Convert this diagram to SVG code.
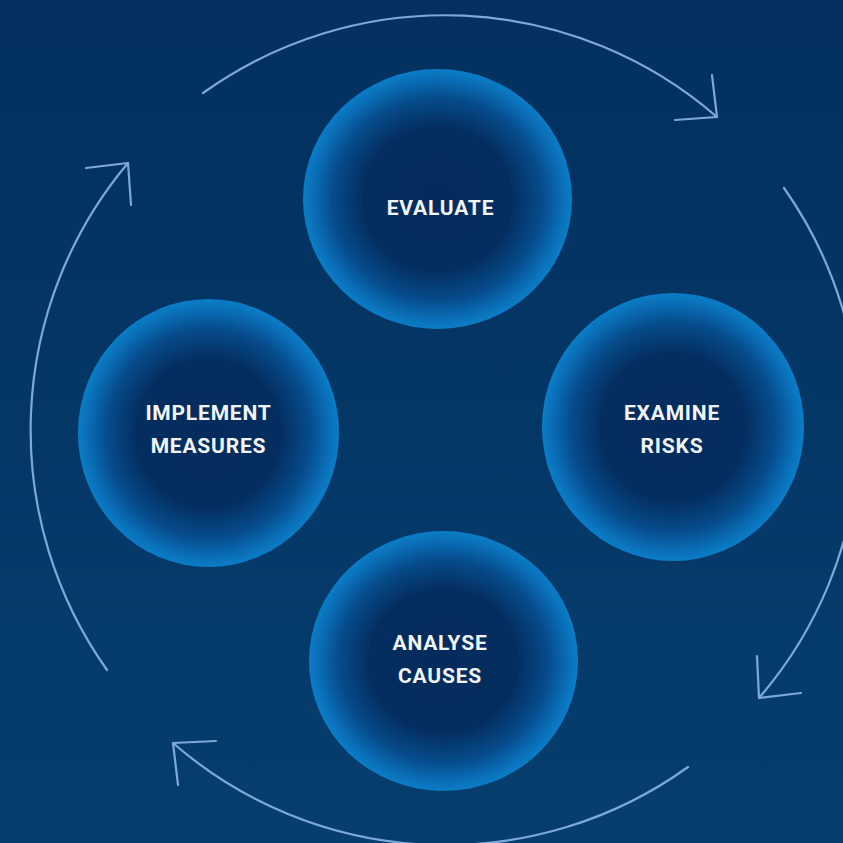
<svg xmlns="http://www.w3.org/2000/svg" width="843" height="843" viewBox="0 0 843 843">
<defs>
<linearGradient id="bg" x1="0" y1="0" x2="0" y2="1">
<stop offset="0" stop-color="#03305f"/>
<stop offset="1" stop-color="#063e6e"/>
</linearGradient>
<radialGradient id="orb" cx="0.5" cy="0.5" r="0.5">
<stop offset="0" stop-color="#042b5c"/>
<stop offset="0.55" stop-color="#042e60"/>
<stop offset="0.78" stop-color="#064c8c"/>
<stop offset="0.93" stop-color="#0a6fb8"/>
<stop offset="1" stop-color="#0b7dc7"/>
</radialGradient>
<style>
.lbl{font-family:Roboto,"Liberation Sans",sans-serif;font-weight:700;font-size:21px;fill:#f2f5f8;text-anchor:middle;letter-spacing:0.8px}
.arc{fill:none;stroke:#7ea8da;stroke-width:2.2;stroke-linecap:round;stroke-linejoin:round}
</style>
</defs>
<rect width="843" height="843" fill="url(#bg)"/>
<g id="connectors">
<path class="arc" d="M203 93 A415 415 0 0 1 717 117"/>
<path class="arc" d="M675 120 L717 117 L712 75"/>
<path class="arc" d="M784 188 A415 415 0 0 1 759 698"/>
<path class="arc" d="M757 656 L759 698 L801 693"/>
<path class="arc" d="M688 767 A415 415 0 0 1 173 743"/>
<path class="arc" d="M216 741 L173 743 L178 785"/>
<path class="arc" d="M107 670 A415 415 0 0 1 128 163"/>
<path class="arc" d="M86 168 L128 163 L131 205"/>
</g>
<g id="evaluate">
<ellipse cx="437.5" cy="199" rx="134.5" ry="130" fill="url(#orb)"/>
<text class="lbl" x="440.5" y="215">EVALUATE</text>
</g>
<g id="examine-risks">
<ellipse cx="673" cy="427" rx="131" ry="134" fill="url(#orb)"/>
<text class="lbl" x="672" y="420">EXAMINE</text>
<text class="lbl" x="672" y="453">RISKS</text>
</g>
<g id="analyse-causes">
<ellipse cx="443.5" cy="661" rx="134.5" ry="130" fill="url(#orb)"/>
<text class="lbl" x="440" y="650">ANALYSE</text>
<text class="lbl" x="440" y="683">CAUSES</text>
</g>
<g id="implement-measures">
<ellipse cx="208.5" cy="433" rx="130.5" ry="134" fill="url(#orb)"/>
<text class="lbl" x="208.5" y="420">IMPLEMENT</text>
<text class="lbl" x="208.5" y="453">MEASURES</text>
</g>
</svg>
